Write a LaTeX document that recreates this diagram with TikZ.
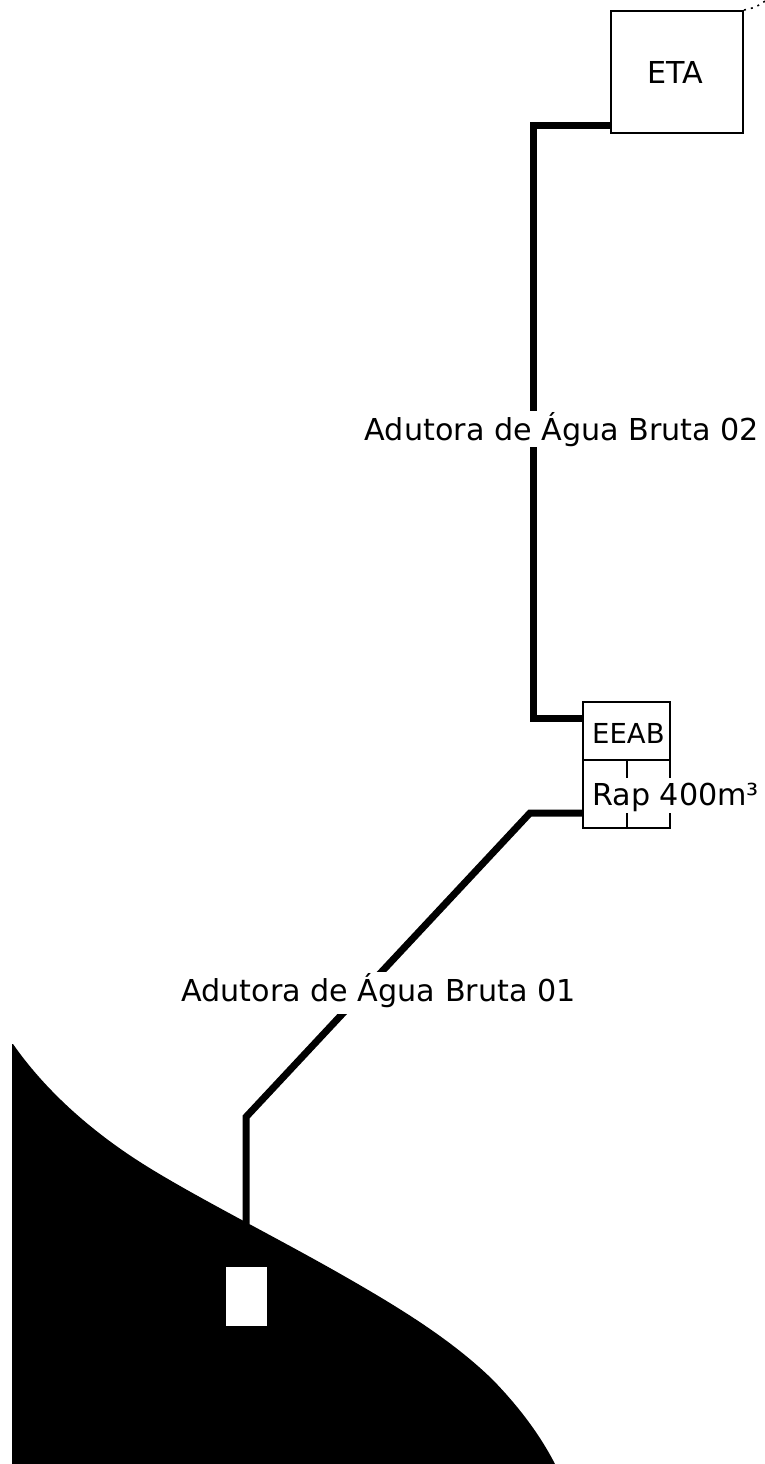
\documentclass[tikz,border=0pt]{standalone}
\usepackage{fontspec}
\setmainfont{DejaVu Sans}
\tikzset{
  x=1pt,y=-1pt,
  boxn/.style={draw=black,line width=2.4pt,minimum width=#1,inner sep=0pt,anchor=north west},
  pipe/.style={line width=7pt,line join=miter},
  lab/.style={fill=white,inner ysep=1pt,inner xsep=2pt,anchor=base,font=\fontsize{30.2}{32}\selectfont}
}
\begin{document}
\begin{tikzpicture}
\useasboundingbox (0,0) rectangle (765,1464);
% terrain
\fill[black] (13,1044) .. controls (45,1090) and (90,1130) .. (140,1162)
  .. controls (190,1194) and (270,1234) .. (337,1272)
  .. controls (395,1305) and (450,1338) .. (493,1380)
  .. controls (520,1408) and (540,1435) .. (555,1464) -- (12,1464) -- (12,1044) -- cycle;
\node[fill=white,minimum width=41pt,minimum height=59pt,inner sep=0pt,anchor=north west] (intake) at (226,1267) {};
% boxes
\node[boxn=132pt,minimum height=122pt] (eta) at (610,10) {};
\node[lab,fill=none] (etat) at (675.5,83) {ETA};
\node[boxn=87pt,minimum height=58pt] (eeab) at (582,701) {};
\node[boxn=87pt,minimum height=68pt] (rap) at (582,759) {};
\draw[line width=2.4pt] (rap.north) -- (rap.south);
\node[lab,inner xsep=1pt,font=\fontsize{27.5}{29}\selectfont,anchor=base west] (eeabt) at (591,743) {EEAB};
\node[lab,anchor=base west,inner xsep=0pt,text depth=8pt,text height=27pt,inner ysep=0pt] (rapt) at (592,805) {Rap 400m³};
% pipes
\coordinate (a1) at (533,125);
\coordinate (a2) at (533,718);
\draw[pipe] (eta.west |- a1) -- (a1) -- (a2) -- (eeab.west |- a2);
\coordinate (b1) at (530,813);
\coordinate (b2) at (246,1117);
\coordinate (b3) at (246,1224);
\draw[pipe] (rap.west |- b1) -- (b1) -- (b2) -- (b3);
\node[lab] (l2) at (562,440) {Adutora de Água Bruta 02};
\node[lab,text depth=12pt] (l1) at (378.5,1001) {Adutora de Água Bruta 01};
\draw[line width=1.6pt,dash pattern=on 2pt off 5pt] (744,10) .. controls (751,9) and (759,6) .. (765,1);
\end{tikzpicture}
\end{document}
